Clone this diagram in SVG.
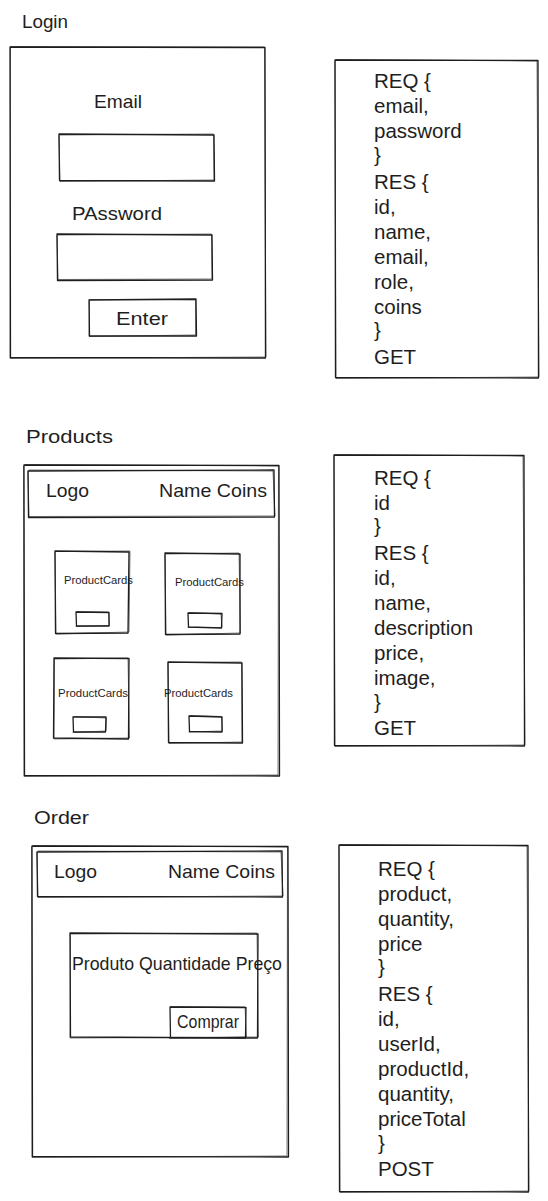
<svg xmlns="http://www.w3.org/2000/svg" width="548" height="1201" viewBox="0 0 548 1201">
  <style>
    .sk { fill: none; stroke: #1e1e1e; stroke-width: 1.3; stroke-linejoin: round; stroke-linecap: round; }
    .sk2 { fill: none; stroke: #1e1e1e; stroke-width: 0.8; stroke-opacity: 0.75; stroke-linecap: round; }
    .t { font-family: "Liberation Sans", "DejaVu Sans", sans-serif; font-size: 19px; fill: #1e1e1e; }
    .api { font-family: "Liberation Sans", "DejaVu Sans", sans-serif; font-size: 20.5px; fill: #1e1e1e; }
    .h { font-family: "Liberation Sans", "DejaVu Sans", sans-serif; font-size: 18px; fill: #1e1e1e; }
    .s { font-family: "Liberation Sans", "DejaVu Sans", sans-serif; font-size: 10.5px; fill: #1e1e1e; }
  </style>
  <rect width="548" height="1201" fill="#ffffff"/>

  <!-- Login screen -->
  <g id="login">
    <text class="h" x="22" y="28" textLength="46" lengthAdjust="spacingAndGlyphs">Login</text>
    <path class="sk" d="M10 47 L265 47.5 L265.5 358 L10.5 357.5 Z"/>
    <path class="sk2" d="M11 46.5 L264.5 47 L266 357 L10 358.5 L10.5 48"/>
    <text class="t" x="94" y="108" textLength="48" lengthAdjust="spacingAndGlyphs">Email</text>
    <path class="sk" d="M59 134 L214 135 L214.5 181 L59.5 180.5 Z"/>
    <path class="sk2" d="M60 135 L213.5 134 L214 180 L60 181.5 L59 135.5"/>
    <text class="t" x="72" y="220" textLength="90" lengthAdjust="spacingAndGlyphs">PAssword</text>
    <path class="sk" d="M57 234 L212 235 L212.5 280 L57.5 280.5 Z"/>
    <path class="sk2" d="M58 235 L211.5 234 L212 279 L58 279.5 L57 235.5"/>
    <path class="sk" d="M89 300 L196 299 L196.5 336 L89.5 336 Z"/>
    <path class="sk2" d="M90 299.5 L195.5 300 L195.5 335 L89 336.5 L89.5 301"/>
    <text class="t" x="116" y="325" textLength="52" lengthAdjust="spacingAndGlyphs">Enter</text>
  </g>

  <g id="login-api">
    <path class="sk" d="M335 60 L538 60.5 L538.5 378 L335.5 377.5 Z"/>
    <path class="sk2" d="M336 59.5 L537 61 L539 377 L336 378.5 L335 61"/>
    <text class="api">
      <tspan x="374" y="88">REQ {</tspan>
      <tspan x="374" y="113">email,</tspan>
      <tspan x="374" y="138">password</tspan>
      <tspan x="374" y="162">}</tspan>
      <tspan x="374" y="189">RES {</tspan>
      <tspan x="374" y="214">id,</tspan>
      <tspan x="374" y="239">name,</tspan>
      <tspan x="374" y="264">email,</tspan>
      <tspan x="374" y="289">role,</tspan>
      <tspan x="374" y="314">coins</tspan>
      <tspan x="374" y="337">}</tspan>
      <tspan x="374" y="364">GET</tspan>
    </text>
  </g>

  <!-- Products screen -->
  <g id="products">
    <text class="h" x="26" y="443" textLength="87" lengthAdjust="spacingAndGlyphs">Products</text>
    <path class="sk" d="M24 465 L279 465.5 L279.5 776 L24.5 775.5 Z"/>
    <path class="sk2" d="M25 464.5 L278.5 466 L278 775 L24 776.5 L23.5 466"/>
    <path class="sk" d="M28 471 L274 470 L274.5 517 L28.5 517.5 Z"/>
    <path class="sk2" d="M29 470 L273 471 L275 516 L29 516.5 L28 472"/>
    <text class="t" x="46" y="497" textLength="43" lengthAdjust="spacingAndGlyphs">Logo</text>
    <text class="t" x="159" y="497" textLength="108" lengthAdjust="spacingAndGlyphs">Name Coins</text>
  </g>

  <g id="card-1">
    <path class="sk" d="M55 551 L129 552 L128 633 L55.5 633.5 Z"/>
    <path class="sk2" d="M56 551.5 L130 551 L129 632 L56 634 L55 552"/>
    <text class="s" x="64" y="584" textLength="69" lengthAdjust="spacingAndGlyphs">ProductCards</text>
    <path class="sk" d="M76 612 L109 612.5 L109 626 L76.5 626 Z"/>
    <path class="sk2" d="M77 611.5 L108.5 612 L109.5 625.5 L76 626.5"/>
  </g>
  <g id="card-2">
    <path class="sk" d="M165 553 L240 554 L240 634 L165.5 634.5 Z"/>
    <path class="sk2" d="M166 554 L239 553 L240.5 633 L166 635 L165 554"/>
    <text class="s" x="175" y="586" textLength="69" lengthAdjust="spacingAndGlyphs">ProductCards</text>
    <path class="sk" d="M188 613 L222 613.5 L221.5 628 L188.5 627 Z"/>
    <path class="sk2" d="M189 612.5 L221 614 L222 627.5 L188 627.5"/>
  </g>
  <g id="card-3">
    <path class="sk" d="M54 658 L129 658.5 L128.5 739 L53.5 738 Z"/>
    <path class="sk2" d="M55 659 L128 658 L129.5 738 L54 739 L54.5 659"/>
    <text class="s" x="58" y="697" textLength="70" lengthAdjust="spacingAndGlyphs">ProductCards</text>
    <path class="sk" d="M73 717 L106 717 L105.5 732 L73.5 732 Z"/>
    <path class="sk2" d="M74 716.5 L106.5 718 L106 731 L73 732.5"/>
  </g>
  <g id="card-4">
    <path class="sk" d="M168 662 L242 663 L242.5 743 L168.5 742.5 Z"/>
    <path class="sk2" d="M169 662.5 L241.5 662 L242 742 L169 743.5 L168 663"/>
    <text class="s" x="164" y="697" textLength="69" lengthAdjust="spacingAndGlyphs">ProductCards</text>
    <path class="sk" d="M189 716 L222 717 L222 732 L189.5 731.5 Z"/>
    <path class="sk2" d="M190 715.5 L221.5 716.5 L222.5 731 L189 732"/>
  </g>

  <g id="products-api">
    <path class="sk" d="M334 455 L524 455.5 L524.5 746 L334.5 745.5 Z"/>
    <path class="sk2" d="M335 454.5 L523 456 L525 745 L335 746.5 L334 456"/>
    <text class="api">
      <tspan x="374" y="485">REQ {</tspan>
      <tspan x="374" y="510">id</tspan>
      <tspan x="374" y="533">}</tspan>
      <tspan x="374" y="560">RES {</tspan>
      <tspan x="374" y="585">id,</tspan>
      <tspan x="374" y="610">name,</tspan>
      <tspan x="374" y="635">description</tspan>
      <tspan x="374" y="660">price,</tspan>
      <tspan x="374" y="685">image,</tspan>
      <tspan x="374" y="709">}</tspan>
      <tspan x="374" y="735">GET</tspan>
    </text>
  </g>

  <!-- Order screen -->
  <g id="order">
    <text class="h" x="34" y="824" textLength="55" lengthAdjust="spacingAndGlyphs">Order</text>
    <path class="sk" d="M32 846 L288 846.5 L288.5 1157 L32.5 1156.5 Z"/>
    <path class="sk2" d="M33 845.5 L287.5 847 L287 1156 L32 1157.5 L31.5 847"/>
    <path class="sk" d="M37 852 L282 851 L282.5 897 L37.5 896.5 Z"/>
    <path class="sk2" d="M38 851 L281 852 L283 896 L38 897.5 L37 853"/>
    <text class="t" x="54" y="878" textLength="43" lengthAdjust="spacingAndGlyphs">Logo</text>
    <text class="t" x="168" y="878" textLength="107" lengthAdjust="spacingAndGlyphs">Name Coins</text>
  </g>

  <g id="order-item">
    <path class="sk" d="M70 933 L258 934 L257.5 1038 L70.5 1037 Z"/>
    <path class="sk2" d="M71 934 L257 933 L258.5 1037 L70 1038 L70.5 935"/>
    <text class="t" x="72" y="970" textLength="210" lengthAdjust="spacingAndGlyphs">Produto Quantidade Preço</text>
  </g>

  <g id="comprar">
    <path class="sk" d="M170 1007 L246 1007.5 L245.5 1038 L170.5 1037.5 Z"/>
    <path class="sk2" d="M171 1006.5 L245 1007 L246.5 1037 L169.5 1038.5"/>
    <text class="t" x="177" y="1028" font-size="15" textLength="62" lengthAdjust="spacingAndGlyphs">Comprar</text>
  </g>

  <g id="order-api">
    <path class="sk" d="M339 845 L528 845.5 L528.5 1192 L339.5 1191.5 Z"/>
    <path class="sk2" d="M340 844.5 L527 846 L529 1191 L340 1192.5 L339 846"/>
    <text class="api">
      <tspan x="378" y="876">REQ {</tspan>
      <tspan x="378" y="901">product,</tspan>
      <tspan x="378" y="926">quantity,</tspan>
      <tspan x="378" y="951">price</tspan>
      <tspan x="378" y="974">}</tspan>
      <tspan x="378" y="1001">RES {</tspan>
      <tspan x="378" y="1026">id,</tspan>
      <tspan x="378" y="1051">userId,</tspan>
      <tspan x="378" y="1076">productId,</tspan>
      <tspan x="378" y="1101">quantity,</tspan>
      <tspan x="378" y="1126">priceTotal</tspan>
      <tspan x="378" y="1150">}</tspan>
      <tspan x="378" y="1176">POST</tspan>
    </text>
  </g>
</svg>
